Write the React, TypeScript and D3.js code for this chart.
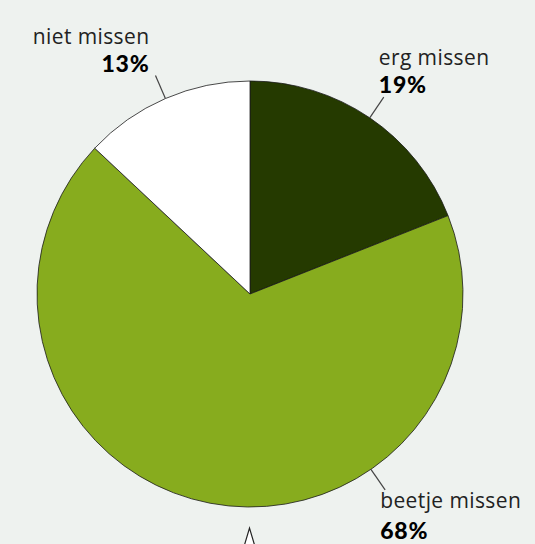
import { arc, pie, PieArcDatum } from "d3";

const categories = ["erg missen", "beetje missen", "niet missen"];
const values = [19, 68, 13];
const percentLabels = ["19%", "68%", "13%"];
const colors = ["#253a00", "#87ac1e", "#ffffff"];

// where each leader line leaves the pie (degrees clockwise from top)
const leaderAngles = [34.2, 145.4, 336.6];

interface Slice {
    label: string;
    value: number;
    color: string;
    pct: string;
    angle: number;
}

const slices: Slice[] = categories.map((label, i) => ({
    label,
    value: values[i],
    color: colors[i],
    pct: percentLabels[i],
    angle: leaderAngles[i],
}));

export default function App() {
    const width = 535;
    const height = 544;
    const cx = 250;
    const cy = 294;
    const radius = 213;
    const leaderOuter = 238;

    const layout = pie<Slice>()
        .value((d) => d.value)
        .sort(null);
    const arcs = layout(slices);
    const arcGen = arc<PieArcDatum<Slice>>().innerRadius(0).outerRadius(radius);

    const polar = (deg: number, r: number) => {
        const a = (deg * Math.PI) / 180;
        return [Math.sin(a) * r, -Math.cos(a) * r];
    };

    return (
        <svg
            width={width}
            height={height}
            style={{ position: "absolute", left: 0, top: 0, background: "#eef2ef" }}
        >
            <rect width={width} height={height} fill="#eef2ef" />
            <g transform={`translate(${cx}, ${cy})`}>
                {arcs.map((d) => (
                    <path
                        key={d.data.label}
                        d={arcGen(d) ?? ""}
                        fill={d.data.color}
                        stroke="#1a1a1a"
                        strokeWidth={0.8}
                    />
                ))}
                {arcs.map((d) => {
                    const [x1, y1] = polar(d.data.angle, radius);
                    const [x2, y2] = polar(d.data.angle, leaderOuter);
                    const right = d.data.angle < 180;
                    const below = d.data.angle > 90 && d.data.angle < 270;
                    const tx = right ? x2 - 5 : x2 - 6;
                    const nameY = below ? y2 + 18 : y2 - 32;
                    const pctY = below ? y2 + 49 : y2 - 4;
                    return (
                        <g key={`lbl-${d.data.label}`}>
                            <line
                                x1={x1}
                                y1={y1}
                                x2={x2}
                                y2={y2}
                                stroke="#444"
                                strokeWidth={1.2}
                            />
                            <text
                                x={tx}
                                y={nameY}
                                textAnchor={right ? "start" : "end"}
                                fontFamily="'Open Sans', sans-serif"
                                fontSize={21}
                                letterSpacing={0.4}
                                fill="#222"
                            >
                                {d.data.label}
                            </text>
                            <text
                                x={tx}
                                y={pctY}
                                textAnchor={right ? "start" : "end"}
                                fontFamily="Lato, sans-serif"
                                fontSize={23}
                                fontWeight={900}
                                letterSpacing={0.8}
                                fill="#000"
                            >
                                {d.data.pct}
                            </text>
                        </g>
                    );
                })}
            </g>
            <path
                d="M243,550 L249.5,528 L256,550"
                fill="#ffffff"
                stroke="#222"
                strokeWidth={1.2}
            />
        </svg>
    );
}
